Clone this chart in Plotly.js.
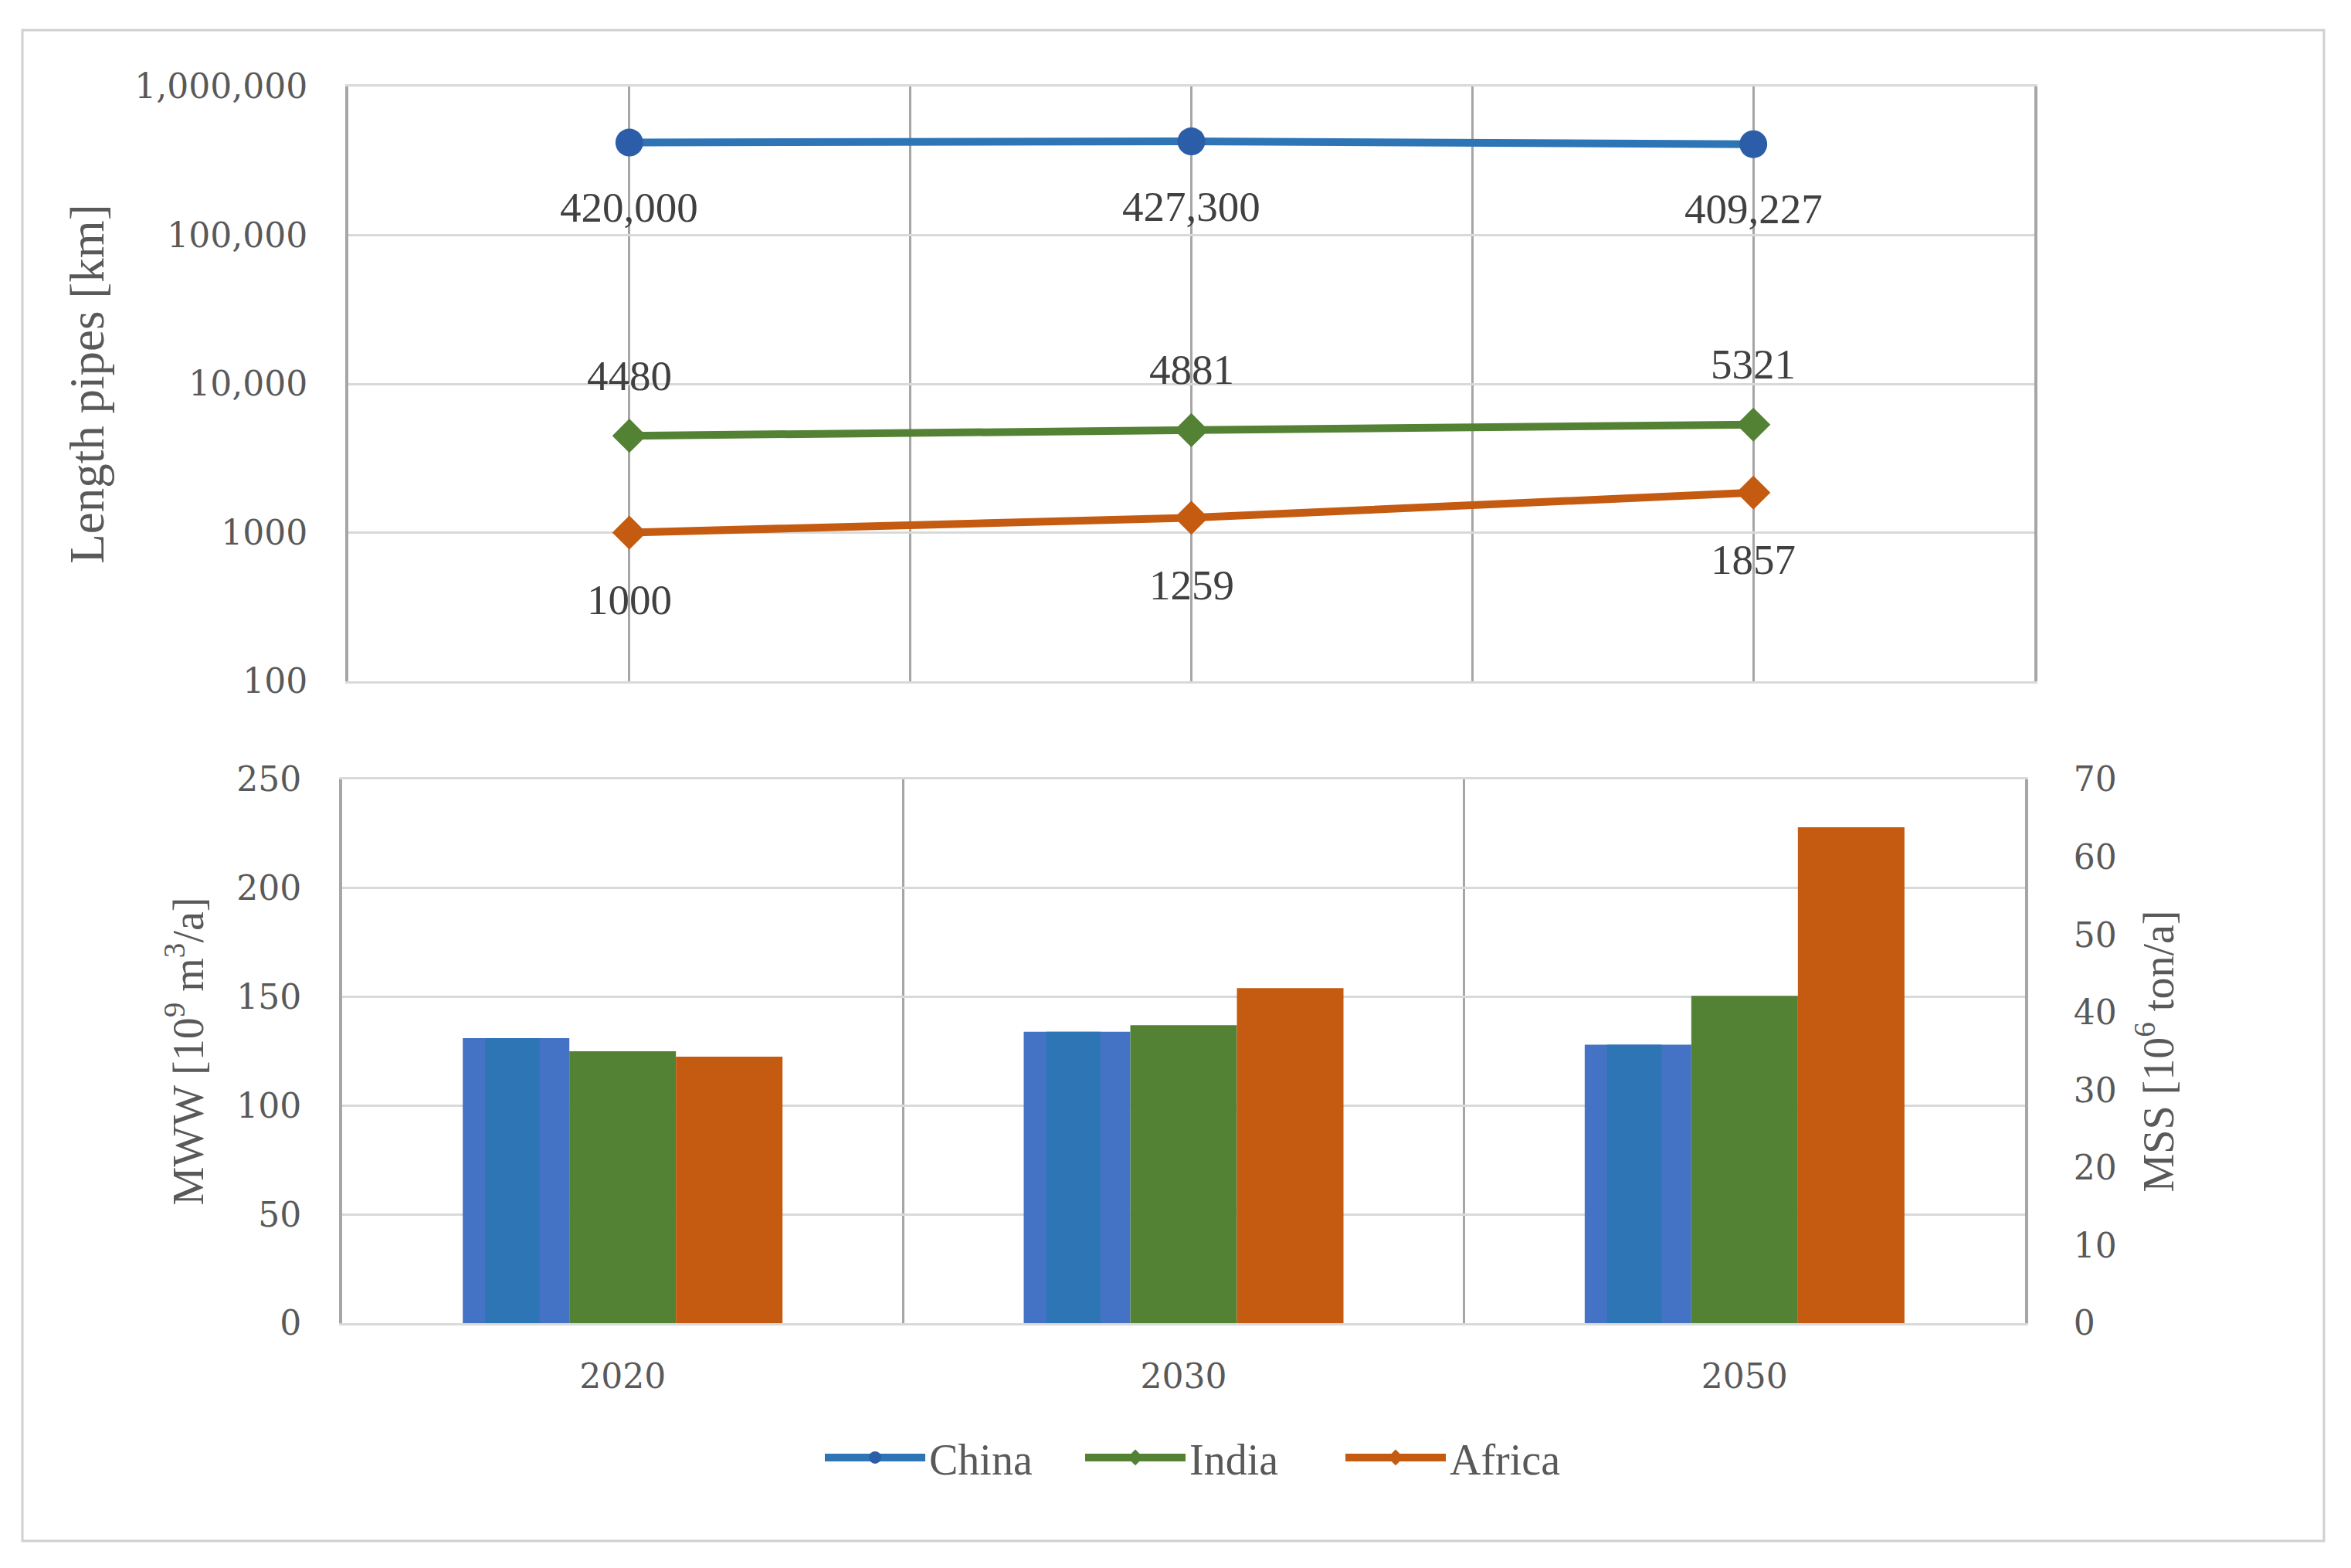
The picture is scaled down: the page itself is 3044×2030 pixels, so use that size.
<!DOCTYPE html>
<html>
<head>
<meta charset="utf-8">
<script src="https://cdn.plot.ly/plotly-3.0.1.min.js"></script>
<style>
  html, body { margin: 0; padding: 0; background: #ffffff; }
  #chart { width: 3044px; height: 2030px; }
</style>
</head>
<body>
<div id="chart"></div>
<script>
// ---------- data ----------
const years = ['2020', '2030', '2050'];
const seriesNames = ['China', 'India', 'Africa'];

// Length of pipes [km] (log panel)
const pipesChina = [420000, 427300, 409227];
const pipesIndia = [4480, 4881, 5321];
const pipesAfrica = [1000, 1259, 1857];

// MWW [10^9 m3/a] (bar panel)
const mwwChina = [131, 134, 128];
const mwwIndia = [125, 137, 150.5];
const mwwAfrica = [122.5, 154, 228];

// tick labels
const logTickVals = [100, 1000, 10000, 100000, 1000000];
const logTickText = ['100', '1000', '10,000', '100,000', '1,000,000'];
const mwwTickVals = [0, 50, 100, 150, 200, 250];
const mssTickVals = [0, 10, 20, 30, 40, 50, 60, 70];

// ---------- styles ----------
const colChina = '#2E75B6', colChinaMarker = '#2C5DA8', colChinaOuter = '#4472C4';
const colIndia = '#548235';
const colAfrica = '#C55A11';
const serif = 'Liberation Serif, Times New Roman, serif';
const tickFont = { family: 'DejaVu Serif, serif', size: 44, color: '#595959' };
const W = 3044, H = 2030;
const px = v => v / W, py = v => 1 - v / H;

const idx = years.map((_, i) => i);

function lineTrace(name, y, color, mColor, symbol, size) {
  return {
    type: 'scatter', mode: 'lines+markers', name: name,
    x: idx, y: y, xaxis: 'x', yaxis: 'y',
    line: { color: color, width: 10 },
    marker: { color: mColor, symbol: symbol, size: size },
    hoverinfo: 'skip'
  };
}

function barTrace(name, y, color, width, offset) {
  return {
    type: 'bar', name: name, x: years, y: y, xaxis: 'x2', yaxis: 'y2',
    marker: { color: color, line: { width: 0 } },
    width: width, offset: offset, showlegend: false, hoverinfo: 'skip'
  };
}

const traces = [
  lineTrace(seriesNames[0], pipesChina, colChina, colChinaMarker, 'circle', 36),
  lineTrace(seriesNames[1], pipesIndia, colIndia, colIndia, 'diamond', 34),
  lineTrace(seriesNames[2], pipesAfrica, colAfrica, colAfrica, 'diamond', 34),
  barTrace(seriesNames[0], mwwChina, colChinaOuter, 0.19, -0.285),
  barTrace(seriesNames[0], mwwChina, colChina, 0.097, -0.245),
  barTrace(seriesNames[1], mwwIndia, colIndia, 0.19, -0.095),
  barTrace(seriesNames[2], mwwAfrica, colAfrica, 0.19, 0.095),
  { type: 'scatter', mode: 'markers', x: years, y: [null, null, null],
    xaxis: 'x2', yaxis: 'y3', showlegend: false, hoverinfo: 'skip' }
];

// data labels
function fmt(v) { return v >= 100000 ? v.toLocaleString('en-US') : String(v); }
const annotations = [];
function addLabels(vals, shift) {
  vals.forEach((v, i) => annotations.push({
    xref: 'x', yref: 'y', x: i, y: Math.log10(v), text: fmt(v),
    showarrow: false, yshift: shift,
    font: { family: serif, size: 55, color: '#404040' }
  }));
}
addLabels(pipesChina, -84);
addLabels(pipesIndia, 78);
addLabels(pipesAfrica, -87);

const layout = {
  width: W, height: H,
  margin: { l: 0, r: 0, t: 0, b: 0 },
  paper_bgcolor: '#ffffff', plot_bgcolor: '#ffffff',
  showlegend: true,
  barmode: 'overlay',
  xaxis: {
    domain: [px(451), px(2634)], anchor: 'y',
    range: [-0.5, 2.5], tick0: -0.5, dtick: 0.5,
    showticklabels: false, ticks: '', zeroline: false,
    showgrid: true, gridcolor: '#a6a6a6', gridwidth: 3,
    showline: true, linecolor: '#d9d9d9', linewidth: 3, mirror: true,
    automargin: false, fixedrange: true
  },
  yaxis: {
    domain: [py(882), py(112)], anchor: 'x',
    type: 'log', range: [2, 6],
    tickvals: logTickVals, ticktext: logTickText,
    tickfont: tickFont, ticks: '', ticklabelstandoff: 40,
    showgrid: true, gridcolor: '#d9d9d9', gridwidth: 3,
    showline: true, linecolor: '#a6a6a6', linewidth: 4, mirror: true,
    zeroline: false, automargin: false,
    title: { text: 'Length pipes [km]', font: { family: serif, size: 63, color: '#595959' }, standoff: 20 }
  },
  xaxis2: {
    domain: [px(443), px(2622)], anchor: 'y2',
    type: 'category', categoryorder: 'array', categoryarray: years,
    range: [-0.5, 2.5],
    tickson: 'boundaries', ticks: '', ticklabelstandoff: 28,
    tickfont: tickFont,
    showgrid: true, gridcolor: '#a6a6a6', gridwidth: 3,
    showline: true, linecolor: '#d9d9d9', linewidth: 3, mirror: true,
    zeroline: false, automargin: false
  },
  yaxis2: {
    domain: [py(1713), py(1009)], anchor: 'x2',
    range: [0, 250], tickvals: mwwTickVals,
    tickfont: tickFont, ticks: '', ticklabelstandoff: 40,
    showgrid: true, gridcolor: '#d9d9d9', gridwidth: 3,
    showline: true, linecolor: '#a6a6a6', linewidth: 4,
    zeroline: false, automargin: false,
    title: { text: 'MWW [10<sup>9</sup> m<sup>3</sup>/a]', font: { family: serif, size: 56, color: '#595959' }, standoff: 26 }
  },
  yaxis3: {
    overlaying: 'y2', side: 'right', anchor: 'x2',
    range: [0, 70], tickvals: mssTickVals,
    tickfont: tickFont, ticks: '', ticklabelstandoff: 50,
    showgrid: false, showline: true, linecolor: '#a6a6a6', linewidth: 4,
    zeroline: false, automargin: false,
    title: { text: 'MSS [10<sup>6</sup> ton/a]', font: { family: serif, size: 56, color: '#595959' }, standoff: 36 }
  },
  legend: {
    orientation: 'h', x: px(1063), xanchor: 'left', y: py(1887), yanchor: 'middle',
    font: { family: serif, size: 56, color: '#595959' },
    itemwidth: 130, entrywidth: 192, entrywidthmode: 'pixels',
    bgcolor: 'rgba(0,0,0,0)'
  },
  annotations: annotations,
  shapes: [{
    type: 'rect', xref: 'paper', yref: 'paper', layer: 'below',
    x0: px(29), x1: px(3009), y0: py(1995), y1: py(39),
    line: { color: '#d0d0d0', width: 3 }, fillcolor: 'rgba(0,0,0,0)'
  }]
};

Plotly.newPlot('chart', traces, layout, { displayModeBar: false, staticPlot: true });
</script>
</body>
</html>
